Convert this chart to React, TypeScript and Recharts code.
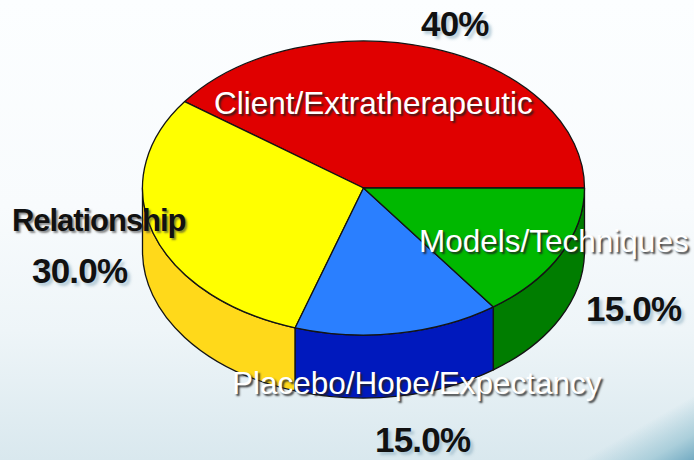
import { PieChart, Pie } from "recharts";

const categories = ["Client/Extratherapeutic", "Relationship", "Placebo/Hope/Expectancy", "Models/Techniques"];
const shares = [40, 30, 15, 15];
const shareLabels = ["40%", "30.0%", "15.0%", "15.0%"];

const topColors = ["#e00000", "#ffff00", "#2a7fff", "#00b800"];
const wallColors = ["#a00000", "#ffd91a", "#0019bd", "#007d00"];

const tilt = 147 / 221;
const depth = 63;

const topData = categories.map((name, i) => ({ name, value: shares[i], fill: topColors[i] }));
const wallData = categories.map((name, i) => ({ name, value: shares[i], fill: wallColors[i] }));

const point = (p: any, deg: number, dy = 0) => {
  const a = (deg * Math.PI) / 180;
  return `${p.cx + p.outerRadius * Math.cos(a)},${p.cy - p.outerRadius * tilt * Math.sin(a) + dy}`;
};

// pie sectors squashed into an ellipse, angles still come from the library
function TopSlice(p: any) {
  const rx = p.outerRadius;
  const ry = rx * tilt;
  const large = p.endAngle - p.startAngle > 180 ? 1 : 0;
  const d = `M${p.cx},${p.cy} L${point(p, p.startAngle)} A${rx},${ry} 0 ${large} 0 ${point(p, p.endAngle)} Z`;
  return <path d={d} fill={p.fill} stroke="#141414" strokeWidth={1.3} strokeLinejoin="round" />;
}

function WallSlice(p: any) {
  const from = Math.max(p.startAngle, 180);
  const to = Math.min(p.endAngle, 360);
  if (to <= from) return <g />;
  const rx = p.outerRadius;
  const ry = rx * tilt;
  const d = `M${point(p, from)} A${rx},${ry} 0 0 0 ${point(p, to)} L${point(p, to, depth)} A${rx},${ry} 0 0 1 ${point(p, from, depth)} Z`;
  return <path d={d} fill={p.fill} stroke="#141414" strokeWidth={1.3} strokeLinejoin="round" />;
}

const blackText = {
  position: "absolute" as const,
  whiteSpace: "nowrap" as const,
  fontFamily: "'Liberation Sans', Arial, sans-serif",
  fontWeight: 700,
  color: "#111",
  lineHeight: 1,
};

const whiteText = {
  ...blackText,
  fontWeight: 400,
  color: "#fff",
  fontSize: 31.5,
  textShadow: "2px 2px 2px rgba(30,30,30,0.85)",
};

const shareText = {
  ...blackText,
  fontSize: 35,
  letterSpacing: -0.8,
  lineHeight: 0.8,
  textShadow: "3px 3px 3px rgba(130,165,185,0.55)",
};

export default function App() {
  return (
    <div
      style={{
        position: "absolute",
        left: 0,
        top: 0,
        width: 694,
        height: 460,
        overflow: "hidden",
        background:
          "linear-gradient(150deg, rgba(0,0,0,0) 92.5%, rgba(150,195,210,0.7) 97%, rgba(105,165,190,0.9) 100%), linear-gradient(180deg, #fcfeff 0%, #f8fbfd 45%, #eef5f8 72%, #d9e8ee 100%)",
      }}
    >
      <PieChart width={694} height={460} margin={{ top: 0, right: 0, bottom: 0, left: 0 }}>
        <Pie
          data={wallData}
          dataKey="value"
          cx={363.5}
          cy={188}
          outerRadius={221}
          startAngle={0}
          endAngle={360}
          shape={WallSlice}
          isAnimationActive={false}
        />
        <Pie
          data={topData}
          dataKey="value"
          cx={363.5}
          cy={188}
          outerRadius={221}
          startAngle={0}
          endAngle={360}
          shape={TopSlice}
          isAnimationActive={false}
        />
      </PieChart>
      <div style={{ ...whiteText, left: 214, top: 88 }}>{categories[0]}</div>
      <div
        style={{
          ...blackText,
          left: 12,
          top: 205,
          fontSize: 31,
          letterSpacing: -1.05,
          textShadow: "2px 2px 2px rgba(60,60,60,0.6)",
        }}
      >
        {categories[1]}
      </div>
      <div style={{ ...whiteText, left: 232, top: 368 }}>{categories[2]}</div>
      <div style={{ ...whiteText, left: 419, top: 226 }}>{categories[3]}</div>
      <div style={{ ...shareText, left: 421, top: 10 }}>{shareLabels[0]}</div>
      <div style={{ ...shareText, left: 32, top: 257 }}>{shareLabels[1]}</div>
      <div style={{ ...shareText, left: 375, top: 426 }}>{shareLabels[2]}</div>
      <div style={{ ...shareText, left: 586, top: 295 }}>{shareLabels[3]}</div>
    </div>
  );
}
